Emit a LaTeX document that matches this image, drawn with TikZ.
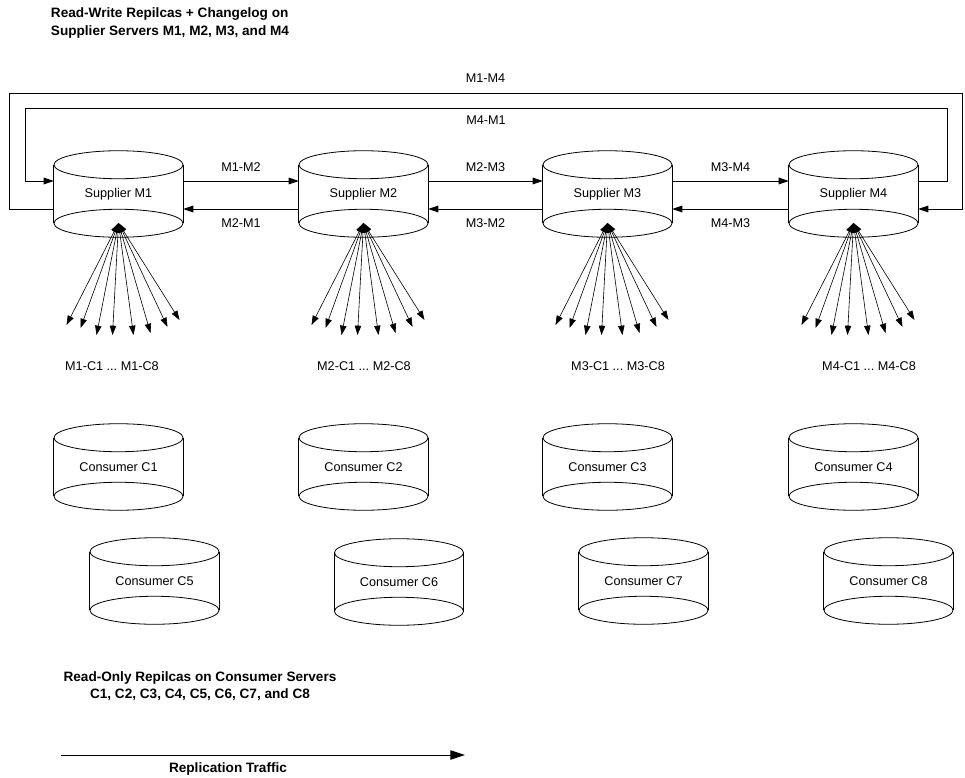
\documentclass[tikz,border=0pt]{standalone}
\usepackage{fontspec}
\setmainfont{Liberation Sans}
\usetikzlibrary{shapes.geometric, arrows.meta, positioning, calc}
\frenchspacing
\newcommand{\lblfont}{\fontsize{9.5}{11}\selectfont}
\newcommand{\headfont}{\fontsize{10.2}{13}\selectfont\bfseries}
\tikzset{
    db/.style={rectangle, inner sep=0pt, minimum width=96.75pt, minimum height=64.5pt, font=\lblfont,
        append after command={\pgfextra{\let\dbn\tikzlastnode
            \draw[line width=0.6pt] ([yshift=-10.5pt]\dbn.north) ellipse [x radius=48.4pt, y radius=10.5pt];
            \draw[line width=0.6pt] ([yshift=10.5pt]\dbn.south) ellipse [x radius=48.4pt, y radius=10.5pt];
            \draw[line width=0.6pt] ([yshift=-10.5pt]\dbn.north west) -- ([yshift=10.5pt]\dbn.south west);
            \draw[line width=0.6pt] ([yshift=-10.5pt]\dbn.north east) -- ([yshift=10.5pt]\dbn.south east);}}},
    lbl/.style={inner sep=0pt, font=\lblfont},
    heading/.style={inner sep=0pt, font=\headfont},
    arrow/.style={line width=0.6pt, -{Triangle[length=7.5pt, width=5pt]}},
    fan/.style={line width=0.45pt, {Triangle[length=7pt, width=4.8pt]}-{Triangle[length=7pt, width=4.8pt]}},
    bigarrow/.style={line width=0.75pt, -{Triangle[length=11pt, width=7pt]}}
}

\begin{document}
\begin{tikzpicture}[x=0.75pt, y=-0.75pt]
    \useasboundingbox (0,0) rectangle (965,778);

    % title
    \node (title) [heading, align=left] at (170,23) {Read-Write Repilcas + Changelog on\\Supplier Servers M1, M2, M3, and M4};

    % suppliers
    \node (m1) [db] at (118.5,194) {Supplier M1};
    \node (m2) [db] at (363.5,194) {Supplier M2};
    \node (m3) [db] at (607.5,194) {Supplier M3};
    \node (m4) [db] at (853.5,194) {Supplier M4};

    % consumers
    \node (c1) [db] at (118.5,467) {Consumer C1};
    \node (c2) [db] at (363.5,467) {Consumer C2};
    \node (c3) [db] at (607.5,467) {Consumer C3};
    \node (c4) [db] at (853.5,467) {Consumer C4};
    \node (c5) [db] at (154.5,581) {Consumer C5};
    \node (c6) [db] at (399,582) {Consumer C6};
    \node (c7) [db] at (643.5,581) {Consumer C7};
    \node (c8) [db] at (888.5,581) {Consumer C8};

    % supplier to supplier
    \draw [arrow] ($(m1.east)+(0,-13)$) -- node[lbl, above=7pt] (l12) {M1-M2} ($(m2.west)+(0,-13)$);
    \draw [arrow] ($(m2.west)+(0,15)$) -- node[lbl, below=7pt] (l21) {M2-M1} ($(m1.east)+(0,15)$);
    \draw [arrow] ($(m2.east)+(0,-13)$) -- node[lbl, above=7pt] (l23) {M2-M3} ($(m3.west)+(0,-13)$);
    \draw [arrow] ($(m3.west)+(0,15)$) -- node[lbl, below=7pt] (l32) {M3-M2} ($(m2.east)+(0,15)$);
    \draw [arrow] ($(m3.east)+(0,-13)$) -- node[lbl, above=7pt] (l34) {M3-M4} ($(m4.west)+(0,-13)$);
    \draw [arrow] ($(m4.west)+(0,15)$) -- node[lbl, below=7pt] (l43) {M4-M3} ($(m3.east)+(0,15)$);

    % loops round the top
    \coordinate (otl) at (9,93);
    \coordinate (otr) at (962,93);
    \coordinate (itl) at (25,108);
    \coordinate (itr) at (947,108);
    \draw [arrow] ($(m1.west)+(0,15)$) -| (otl) -- node[lbl, above=7.8pt] (l14) {M1-M4} (otr) |- ($(m4.east)+(0,15)$);
    \draw [arrow] ($(m4.east)+(0,-13)$) -| (itr) -- node[lbl, below=5.6pt] (l41) {M4-M1} (itl) |- ($(m1.west)+(0,-13)$);

    % fans to the consumers
    \foreach \s in {m1,m2,m3,m4}{
        \coordinate (\s src) at ($(\s.center)+(0,29)$);
        \foreach \dx/\dy [count=\k] in {-52/102,-38/105,-22/112,-6/112,15/112,32/110,49/104,61/97}{
            \coordinate (\s tip\k) at ($(\s src)+(\dx,\dy)$);
            \draw [fan] (\s src) -- (\s tip\k);
        }
    }
    \node (f1) [lbl] at (112,366) {M1-C1 ... M1-C8};
    \node (f2) [lbl] at (364,366) {M2-C1 ... M2-C8};
    \node (f3) [lbl] at (618,366) {M3-C1 ... M3-C8};
    \node (f4) [lbl] at (869,366) {M4-C1 ... M4-C8};

    % bottom notes
    \node (ronote) [heading, align=center] at (200,686) {Read-Only Repilcas on Consumer Servers\\C1, C2, C3, C4, C5, C6, C7, and C8};
    \coordinate (rtl) at (61,755);
    \coordinate (rtr) at (465,755);
    \draw [bigarrow] (rtl) -- (rtr);
    \node (rtlabel) [heading] at (228,769) {Replication Traffic};

    \end{tikzpicture}
\end{document}
